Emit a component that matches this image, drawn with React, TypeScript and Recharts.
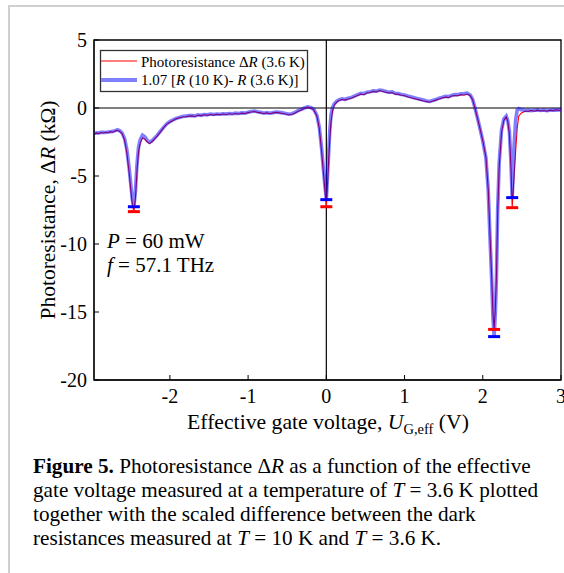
import { ComposedChart, Line, Scatter, XAxis, YAxis, ReferenceLine, ReferenceArea } from 'recharts'

// effective gate voltage (V)
const voltage = [
  -2.97, -2.94, -2.91, -2.88, -2.85, -2.82, -2.79, -2.76, -2.73, -2.7, -2.67, -2.64, -2.61, -2.58, -2.55, -2.52, -2.5,
  -2.48, -2.46, -2.44, -2.42, -2.4, -2.38, -2.35, -2.32, -2.29, -2.26, -2.23, -2.2, -2.16, -2.12, -2.08, -2.04, -2.0,
  -1.96, -1.92, -1.88, -1.84, -1.8, -1.76, -1.72, -1.68, -1.64, -1.6, -1.56, -1.52, -1.48, -1.44, -1.4, -1.36, -1.32,
  -1.28, -1.24, -1.2, -1.16, -1.12, -1.08, -1.04, -1.0, -0.96, -0.92, -0.88, -0.84, -0.8, -0.76, -0.72, -0.68, -0.64,
  -0.6, -0.56, -0.52, -0.48, -0.44, -0.4, -0.36, -0.32, -0.28, -0.24, -0.2, -0.16, -0.12, -0.09, -0.06, -0.04, -0.02,
  0.0, 0.015, 0.03, 0.045, 0.06, 0.08, 0.1, 0.13, 0.16, 0.2, 0.24, 0.28, 0.32, 0.36, 0.4, 0.44, 0.48, 0.52, 0.56, 0.6,
  0.64, 0.68, 0.72, 0.76, 0.8, 0.84, 0.88, 0.92, 0.96, 1.0, 1.04, 1.08, 1.12, 1.16, 1.2, 1.24, 1.28, 1.32, 1.36, 1.4,
  1.44, 1.48, 1.52, 1.56, 1.6, 1.64, 1.68, 1.72, 1.76, 1.8, 1.84, 1.87, 1.9, 1.93, 1.96, 2.0, 2.04, 2.07, 2.09, 2.115,
  2.13, 2.145, 2.16, 2.175, 2.19, 2.21, 2.24, 2.27, 2.3, 2.32, 2.34, 2.36, 2.376, 2.39, 2.4, 2.42, 2.44, 2.46, 2.49,
  2.52, 2.55, 2.58, 2.62, 2.66, 2.7, 2.74, 2.78, 2.82, 2.86, 2.9, 2.94, 2.97, 3.0,
]

// photoresistance dR at 3.6 K (kOhm)
const photoResistance = [
  -1.92, -1.85, -1.88, -1.8, -1.84, -1.78, -1.82, -1.74, -1.78, -1.7, -1.64, -1.72, -1.9, -2.35, -3.3, -4.8, -6.0,
  -7.1, -7.62, -6.6, -4.6, -3.2, -2.6, -2.2, -2.3, -2.5, -2.62, -2.48, -2.3, -2.05, -1.75, -1.45, -1.2, -1.05,
  -0.92, -0.8, -0.72, -0.66, -0.64, -0.6, -0.58, -0.62, -0.54, -0.56, -0.5, -0.54, -0.48, -0.52, -0.46, -0.5, -0.44,
  -0.48, -0.42, -0.46, -0.4, -0.44, -0.38, -0.4, -0.34, -0.3, -0.26, -0.32, -0.36, -0.4, -0.36, -0.42, -0.36, -0.32,
  -0.36, -0.4, -0.44, -0.5, -0.46, -0.36, -0.24, -0.14, -0.02, 0.06, 0.0, -0.14, -0.6, -1.5, -3.2, -4.6, -5.9,
  -7.26, -5.6, -3.8, -2.2, -1.0, -0.2, 0.2, 0.42, 0.55, 0.62, 0.58, 0.66, 0.72, 0.82, 0.92, 1.02, 0.98, 1.1, 1.14, 1.22,
  1.18, 1.28, 1.22, 1.16, 1.1, 1.14, 1.02, 1.0, 0.94, 0.9, 0.82, 0.76, 0.7, 0.64, 0.58, 0.52, 0.48, 0.42, 0.5, 0.58,
  0.66, 0.74, 0.8, 0.76, 0.88, 0.92, 0.9, 0.98, 0.94, 1.02, 0.9, 0.6, 0.0, -0.7, -1.4, -2.4, -3.6, -6.0, -9.0, -12.6,
  -15.0, -16.28, -14.8, -12.3, -7.8, -4.3, -1.8, -0.9, -0.65, -1.0, -1.9, -4.3, -7.33, -6.0, -5.0, -3.2, -1.5, -0.6, -0.38,
  -0.3, -0.22, -0.26, -0.18, -0.24, -0.16, -0.22, -0.18, -0.24, -0.16, -0.2, -0.12, -0.18, -0.14,
]

// 1.07 [R(10 K) - R(3.6 K)] (kOhm)
const darkDifference = [
  -1.88, -1.82, -1.84, -1.78, -1.79, -1.8, -1.76, -1.74, -1.72, -1.66, -1.6, -1.68, -1.84, -2.22, -3.05, -4.45, -5.6,
  -6.75, -7.26, -6.1, -4.1, -2.85, -2.35, -2.0, -2.12, -2.38, -2.52, -2.42, -2.24, -2.0, -1.7, -1.42, -1.16, -1.0,
  -0.88, -0.76, -0.7, -0.62, -0.6, -0.56, -0.56, -0.58, -0.5, -0.54, -0.48, -0.5, -0.44, -0.48, -0.44, -0.46, -0.42,
  -0.44, -0.4, -0.42, -0.38, -0.4, -0.36, -0.38, -0.32, -0.26, -0.22, -0.28, -0.32, -0.38, -0.34, -0.38, -0.34, -0.3,
  -0.32, -0.36, -0.4, -0.46, -0.42, -0.32, -0.2, -0.1, 0.0, 0.08, 0.04, -0.1, -0.55, -1.4, -3.0, -4.3, -5.6,
  -6.74, -5.0, -3.3, -1.6, -0.5, 0.05, 0.3, 0.48, 0.6, 0.68, 0.64, 0.72, 0.78, 0.88, 0.98, 1.08, 1.06, 1.16, 1.2, 1.26,
  1.24, 1.32, 1.28, 1.22, 1.16, 1.18, 1.08, 1.06, 1.0, 0.96, 0.88, 0.82, 0.76, 0.7, 0.64, 0.58, 0.52, 0.48, 0.56, 0.62,
  0.72, 0.78, 0.86, 0.84, 0.92, 0.98, 0.98, 1.04, 1.06, 1.1, 0.96, 0.64, 0.02, -0.68, -1.4, -2.42, -3.65, -6.1, -9.2, -12.8,
  -15.4, -16.81, -15.2, -12.5, -7.6, -4.0, -1.6, -0.8, -0.6, -0.95, -1.7, -4.0, -6.59, -4.6, -2.8, -0.9, -0.15, -0.05, -0.12,
  -0.14, -0.18, -0.16, -0.2, -0.16, -0.14, -0.18, -0.14, -0.2, -0.16, -0.14, -0.16, -0.14, -0.12,
]

// minima markers at the dips
const dipVoltage = [-2.46, 0, 2.145, 2.376]
const dipPhoto = [-7.62, -7.26, -16.28, -7.33]
const dipDark = [-7.26, -6.74, -16.81, -6.59]

const xTicks = [-2, -1, 0, 1, 2, 3]
const yTicks = [-20, -15, -10, -5, 0, 5]

const serif = '"Liberation Serif", "Times New Roman", serif'
const tickStyle = { fontFamily: serif, fontSize: 20, fill: '#000' }

const data = voltage.map((v, i) => ({ v, photo: photoResistance[i], dark: darkDifference[i] }))
const photoDips = dipVoltage.map((v, i) => ({ v, y: dipPhoto[i] }))
const darkDips = dipVoltage.map((v, i) => ({ v, y: dipDark[i] }))

function Cap({ cx, cy, color }: { cx?: number; cy?: number; color: string }) {
  if (cx == null || cy == null) return null
  return <line x1={cx - 6} x2={cx + 6} y1={cy} y2={cy} stroke={color} strokeWidth={3} />
}

export default function App() {
  return (
    <div style={{ position: 'absolute', left: 0, top: 0, width: 564, height: 573, overflow: 'hidden', background: '#fff' }}>
      <div style={{ position: 'absolute', left: 8, top: 5, width: 700, height: 700, borderLeft: '2px solid #cfcfcf', borderTop: '2px solid #cfcfcf' }} />
      <div style={{ position: 'absolute', left: 0, top: 0 }}>
        <ComposedChart width={564} height={573} data={data} margin={{ top: 40, right: 3, bottom: 163, left: 34 }}>
          <XAxis
            dataKey="v"
            type="number"
            domain={[-2.97, 3]}
            allowDataOverflow
            ticks={xTicks}
            interval={0}
            height={30}
            tickSize={-5}
            tickMargin={14}
            stroke="#000"
            tick={tickStyle}
          />
          <YAxis
            type="number"
            domain={[-20, 5]}
            allowDataOverflow
            ticks={yTicks}
            interval={0}
            width={60}
            tickSize={-5}
            tickMargin={12}
            stroke="#000"
            tick={tickStyle}
          />
          <ReferenceArea x1={-2.97} x2={3} y1={-20} y2={5} fill="none" stroke="#000" strokeWidth={1.3} ifOverflow="visible" />
          <ReferenceLine y={0} stroke="#000" strokeWidth={1.2} />
          <ReferenceLine x={0} stroke="#000" strokeWidth={1.2} />
          <Line dataKey="photo" type="linear" stroke="#ff0000" strokeWidth={1.1} dot={false} isAnimationActive={false} />
          <Line dataKey="dark" type="linear" stroke="#0000ff" strokeOpacity={0.5} strokeWidth={3.6} dot={false} isAnimationActive={false} />
          <Scatter data={photoDips} dataKey="y" isAnimationActive={false} shape={(p: any) => <Cap cx={p.cx} cy={p.cy} color="#ff0000" />} />
          <Scatter data={darkDips} dataKey="y" isAnimationActive={false} shape={(p: any) => <Cap cx={p.cx} cy={p.cy} color="#0000ff" />} />
        </ComposedChart>
      </div>
      <svg width={564} height={573} style={{ position: 'absolute', left: 0, top: 0, pointerEvents: 'none' }} fontFamily={serif}>
        <rect x={100.5} y={50.5} width={207} height={41} fill="#fff" stroke="#333" strokeWidth={1.3} />
        <line x1={101} x2={137} y1={61} y2={61} stroke="#ff0000" strokeWidth={1.2} />
        <line x1={101} x2={137} y1={80} y2={80} stroke="#7f7fff" strokeWidth={4} />
        <text x={141} y={66.5} fontSize={15}>
          Photoresistance Δ<tspan fontStyle="italic">R</tspan> (3.6 K)
        </text>
        <text x={141} y={85} fontSize={15}>
          1.07 [<tspan fontStyle="italic">R</tspan> (10 K)- <tspan fontStyle="italic">R</tspan> (3.6 K)]
        </text>
        <text x={107} y={248} fontSize={21}>
          <tspan fontStyle="italic">P</tspan> = 60 mW
        </text>
        <text x={107} y={272} fontSize={21}>
          <tspan fontStyle="italic">f</tspan> = 57.1 THz
        </text>
        <text x={328} y={429} fontSize={21.7} textAnchor="middle">
          Effective gate voltage, <tspan fontStyle="italic">U</tspan>
          <tspan fontSize={14.5} dy={5}>G,eff</tspan>
          <tspan dy={-5}> (V)</tspan>
        </text>
        <text x={55} y={210} fontSize={21.5} textAnchor="middle" transform="rotate(-90 55 210)">
          Photoresistance, Δ<tspan fontStyle="italic">R</tspan> (kΩ)
        </text>
        <g fontSize={21.2}>
          <text x={33} y={473}>
            <tspan fontWeight="bold">Figure 5.</tspan> Photoresistance Δ<tspan fontStyle="italic">R</tspan> as a function of the effective
          </text>
          <text x={33} y={497}>
            gate voltage measured at a temperature of <tspan fontStyle="italic">T</tspan> = 3.6 K plotted
          </text>
          <text x={33} y={521}>together with the scaled difference between the dark</text>
          <text x={33} y={545}>
            resistances measured at <tspan fontStyle="italic">T</tspan> = 10 K and <tspan fontStyle="italic">T</tspan> = 3.6 K.
          </text>
        </g>
      </svg>
    </div>
  )
}
